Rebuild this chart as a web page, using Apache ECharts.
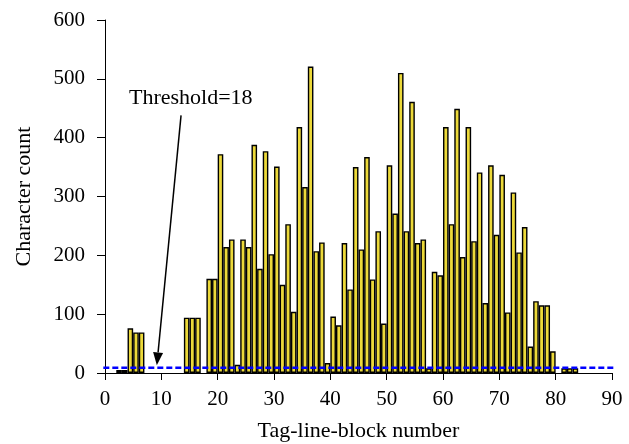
<!DOCTYPE html>
<html>
<head>
<meta charset="utf-8">
<script src="https://cdn.jsdelivr.net/npm/echarts@6/dist/echarts.min.js"></script>
<style>
  html, body { margin: 0; padding: 0; background: #fff; }
  #chart { width: 629px; height: 444px; }
</style>
</head>
<body>
<div id="chart"></div>
<script>
// block number (left edge of each bar) and its character count
const blocks = [2, 3, 4, 5, 6, 14, 15, 16, 18, 19, 20, 21, 22, 23, 24, 25, 26, 27, 28, 29,
  30, 31, 32, 33, 34, 35, 36, 37, 38, 39, 40, 41, 42, 43, 44, 45, 46, 47, 48, 49,
  50, 51, 52, 53, 54, 55, 56, 57, 58, 59, 60, 61, 62, 63, 64, 65, 66, 67, 68, 69,
  70, 71, 72, 73, 74, 75, 76, 77, 78, 79, 81, 82, 83];
const counts = [5, 5, 76, 69, 69, 94, 94, 94, 160, 160, 372, 214, 227, 14, 227, 214, 388, 177, 377, 202,
  351, 150, 253, 104, 418, 316, 521, 207, 222, 17, 96, 81, 221, 142, 350, 210, 367, 159, 241, 84,
  353, 271, 510, 241, 461, 221, 227, 8, 172, 166, 418, 253, 449, 197, 418, 224, 341, 119, 353, 235,
  337, 103, 307, 205, 248, 45, 122, 115, 115, 37, 8, 8, 8];
const xTicks = [0, 90, 10];   // min, max, step
const yTicks = [0, 600, 100];
const threshold = 9;
const thresholdSpan = [-0.3, 90.8];
const thresholdLabel = 'Threshold=18';

const font = '"Liberation Serif", "Times New Roman", serif';
const chart = echarts.init(document.getElementById('chart'));

const barData = blocks.map((b, i) => [b + 0.5, counts[i]]);
const lineData = thresholdSpan.map(x => [x, threshold]);

function buildGraphic() {
  // arrow from the label down to the threshold line
  const p0 = chart.convertToPixel({ gridIndex: 0 }, [13.5, 438]);
  const p1 = chart.convertToPixel({ gridIndex: 0 }, [9.2, threshold + 4]);
  const ang = Math.atan2(p1[1] - p0[1], p1[0] - p0[0]);
  const hl = 13, hw = 5;
  const bx = p1[0] - hl * Math.cos(ang), by = p1[1] - hl * Math.sin(ang);
  return [
    { type: 'text', left: 129, top: 87,
      style: { text: thresholdLabel, fontFamily: font, fontSize: 22, fill: '#000' } },
    { type: 'line', shape: { x1: p0[0], y1: p0[1], x2: bx, y2: by },
      style: { stroke: '#000', lineWidth: 1.5 } },
    { type: 'polygon',
      shape: { points: [p1,
        [bx + hw * Math.sin(ang), by - hw * Math.cos(ang)],
        [bx - hw * Math.sin(ang), by + hw * Math.cos(ang)]] },
      style: { fill: '#000' } }
  ];
}

chart.setOption({
  animation: false,
  grid: { left: 105, right: 17, top: 20, bottom: 71, outerBoundsMode: 'none', containLabel: false },
  xAxis: {
    type: 'value', min: xTicks[0], max: xTicks[1], interval: xTicks[2],
    name: 'Tag-line-block number', nameLocation: 'middle', nameGap: 47,
    nameTextStyle: { fontFamily: font, fontSize: 22, color: '#000' },
    axisLine: { lineStyle: { color: '#000', width: 1 } },
    axisTick: { show: true, length: 7, lineStyle: { color: '#000' } },
    axisLabel: { fontFamily: font, fontSize: 21, color: '#000', margin: 16 },
    splitLine: { show: false }
  },
  yAxis: {
    type: 'value', min: yTicks[0], max: yTicks[1], interval: yTicks[2],
    name: 'Character count', nameLocation: 'middle', nameGap: 70,
    nameTextStyle: { fontFamily: font, fontSize: 22, color: '#000' },
    axisLine: { show: true, lineStyle: { color: '#000', width: 1 } },
    axisTick: { show: true, length: 8, lineStyle: { color: '#000' } },
    axisLabel: { fontFamily: font, fontSize: 21, color: '#000', margin: 20 },
    splitLine: { show: false }
  },
  series: [
    {
      type: 'bar',
      data: barData,
      barWidth: 5.6,
      itemStyle: { color: '#ecd93a', borderColor: '#000', borderWidth: 1.4 }
    },
    {
      type: 'line',
      data: lineData,
      symbol: 'none',
      silent: true,
      clip: false,
      zlevel: 1,
      lineStyle: { color: '#0000ff', type: [6, 3], width: 2.5 }
    }
  ]
});

chart.setOption({ graphic: buildGraphic() });
</script>
</body>
</html>
